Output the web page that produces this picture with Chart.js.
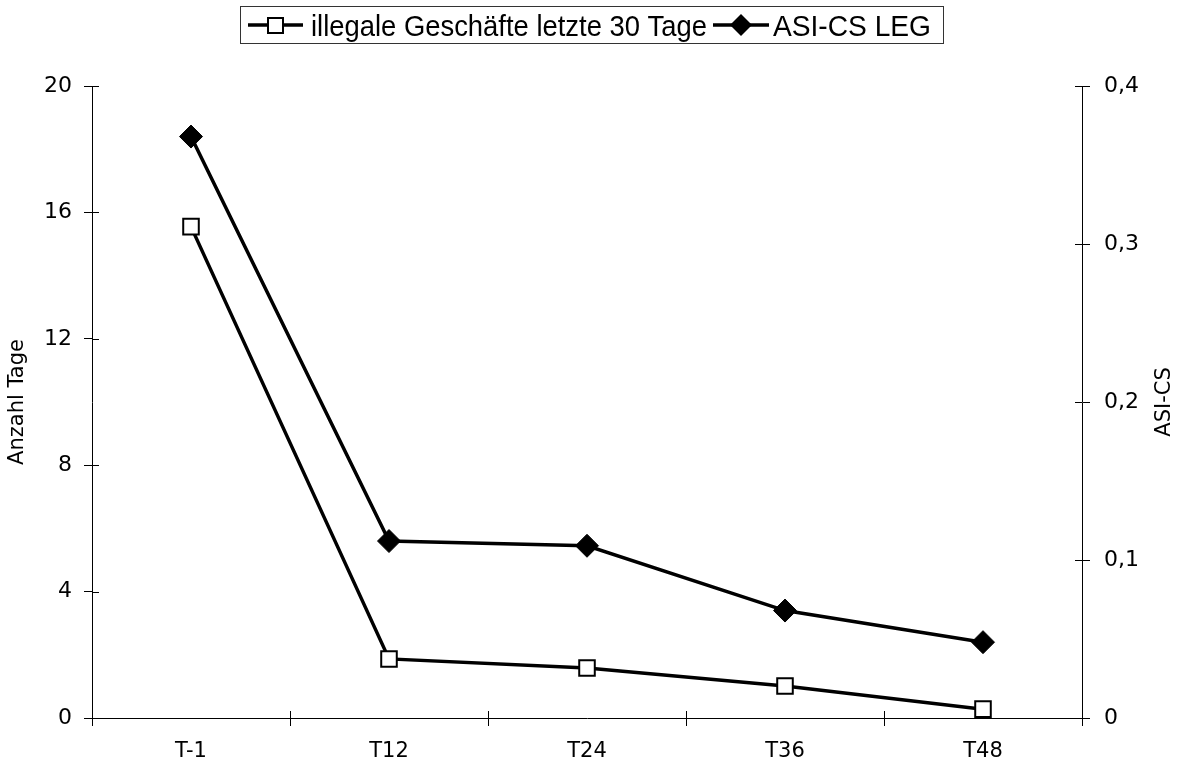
<!DOCTYPE html>
<html>
<head>
<meta charset="utf-8">
<script src="https://cdn.jsdelivr.net/npm/chart.js@4/dist/chart.umd.min.js"></script>
<style>
  html, body { margin: 0; padding: 0; background: #fff; }
  #wrap { width: 1183px; height: 765px; }
</style>
</head>
<body>
<div id="wrap"><canvas id="c" width="1183" height="765"></canvas></div>
<script>
const categories = ["T-1", "T12", "T24", "T36", "T48"];
const illegaleGeschaefte = [15.55, 1.87, 1.58, 1.01, 0.28];
const asiCsLeg = [0.368, 0.112, 0.109, 0.068, 0.048];
const leftTicks = [0, 4, 8, 12, 16, 20];
const rightTicks = [0, 0.1, 0.2, 0.3, 0.4];

const FONT = "'DejaVu Sans', Verdana, sans-serif";

// inner half of the crossing tick marks, plus titles and the boxed legend
const extras = {
  id: "extras",
  afterDraw(chart) {
    const ctx = chart.ctx;
    const a = chart.chartArea;
    const x = chart.scales.x, yl = chart.scales.y, yr = chart.scales.y2;
    ctx.save();
    ctx.strokeStyle = "#000";
    ctx.lineWidth = 1;
    ctx.beginPath();
    leftTicks.forEach(v => { const py = Math.round(yl.getPixelForValue(v)) + 0.5; ctx.moveTo(a.left, py); ctx.lineTo(a.left + 7, py); });
    rightTicks.forEach(v => { const py = Math.round(yr.getPixelForValue(v)) + 0.5; ctx.moveTo(a.right, py); ctx.lineTo(a.right - 7, py); });
    for (let i = 0; i <= categories.length; i++) {
      const px = Math.round(x.getPixelForValue(i - 0.5)) + 0.5;
      ctx.moveTo(px, a.bottom); ctx.lineTo(px, a.bottom - 7);
    }
    ctx.stroke();

    // axis titles, both read bottom-to-top
    ctx.fillStyle = "#000";
    ctx.font = "21px " + FONT;
    ctx.textAlign = "center";
    ctx.textBaseline = "middle";
    [[18, "Anzahl Tage"], [1165, "ASI-CS"]].forEach(([tx, t]) => {
      ctx.save();
      ctx.translate(tx, (a.top + a.bottom) / 2);
      ctx.rotate(-Math.PI / 2);
      ctx.fillText(t, 0, 0);
      ctx.restore();
    });

    // legend
    ctx.strokeStyle = "#333";
    ctx.lineWidth = 1;
    ctx.strokeRect(240.5, 6.5, 703, 37);
    ctx.strokeStyle = "#000";
    ctx.lineWidth = 3.5;
    ctx.beginPath();
    ctx.moveTo(248, 25); ctx.lineTo(303, 25);
    ctx.moveTo(713, 25); ctx.lineTo(769, 25);
    ctx.stroke();
    ctx.lineWidth = 2;
    ctx.fillStyle = "#fff";
    ctx.fillRect(268, 18, 15, 15);
    ctx.strokeRect(268, 18, 15, 15);
    ctx.fillStyle = "#000";
    ctx.beginPath();
    ctx.moveTo(741, 14); ctx.lineTo(752, 25); ctx.lineTo(741, 36); ctx.lineTo(730, 25);
    ctx.closePath(); ctx.fill();
    ctx.font = "30px 'Liberation Sans', Arial, sans-serif";
    ctx.textAlign = "left";
    ctx.textBaseline = "alphabetic";
    ctx.fillText("illegale Geschäfte letzte 30 Tage", 311, 36, 396);
    ctx.fillText("ASI-CS LEG", 773, 36, 158);
    ctx.restore();
  }
};

new Chart(document.getElementById("c"), {
  type: "line",
  data: {
    labels: categories,
    datasets: [
      {
        label: "illegale Geschäfte letzte 30 Tage",
        data: illegaleGeschaefte,
        yAxisID: "y",
        borderColor: "#000",
        borderWidth: 3.5,
        pointStyle: "rect",
        pointRadius: 11,
        pointBorderWidth: 2,
        pointBackgroundColor: "#fff",
        pointBorderColor: "#000",
        tension: 0
      },
      {
        label: "ASI-CS LEG",
        data: asiCsLeg,
        yAxisID: "y2",
        borderColor: "#000",
        borderWidth: 3.5,
        pointStyle: "rectRot",
        pointRadius: 11.5,
        pointBorderWidth: 1,
        pointBackgroundColor: "#000",
        pointBorderColor: "#000",
        tension: 0
      }
    ]
  },
  options: {
    responsive: false,
    animation: false,
    layout: { padding: { top: 86, left: 0, right: 0, bottom: 0 } },
    plugins: { legend: { display: false }, tooltip: { enabled: false } },
    scales: {
      x: {
        offset: true,
        grid: { offset: true, drawOnChartArea: false, tickLength: 8, color: "#000" },
        border: { color: "#000", width: 1 },
        ticks: { color: "#000", font: { family: FONT, size: 21 }, padding: 13 },
        afterFit(s) { s.height = 47; }
      },
      y: {
        position: "left",
        min: 0, max: 20,
        afterBuildTicks(s) { s.ticks = leftTicks.map(v => ({ value: v })); },
        grid: { drawOnChartArea: false, tickLength: 8, color: "#000" },
        border: { color: "#000", width: 1 },
        ticks: { color: "#000", font: { family: FONT, size: 22 }, padding: 12 },
        afterFit(s) { s.width = 92; }
      },
      y2: {
        position: "right",
        min: 0, max: 0.4,
        afterBuildTicks(s) { s.ticks = rightTicks.map(v => ({ value: v })); },
        grid: { drawOnChartArea: false, tickLength: 8, color: "#000" },
        border: { color: "#000", width: 1 },
        ticks: {
          color: "#000", font: { family: FONT, size: 22 }, padding: 14,
          callback: v => v === 0 ? "0" : v.toFixed(1).replace(".", ",")
        },
        afterFit(s) { s.width = 101; }
      }
    }
  },
  plugins: [extras]
});
</script>
</body>
</html>
